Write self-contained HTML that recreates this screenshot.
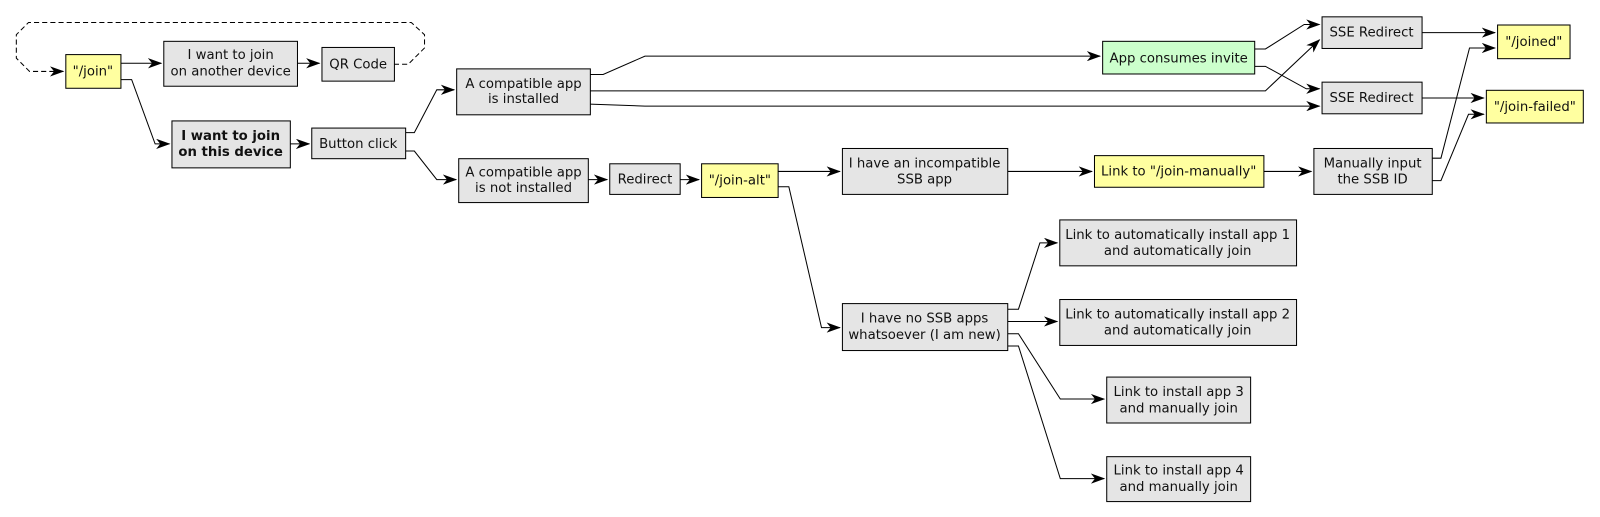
<!DOCTYPE html>
<html><head><meta charset="utf-8"><style>
html,body{margin:0;padding:0;background:#fff}
svg{display:block}
text{font-family:"DejaVu Sans","Liberation Sans",sans-serif;font-size:13px;fill:#111;text-anchor:middle}
.g{fill:#e5e5e5;stroke:#000;stroke-width:1}
.y{fill:#ffffa0;stroke:#000;stroke-width:1}
.gr{fill:#ccffcc;stroke:#000;stroke-width:1}
.e{fill:none;stroke:#000;stroke-width:1;marker-end:url(#a)}
</style></head><body>
<svg width="1600" height="517" viewBox="0 0 1600 517" xmlns="http://www.w3.org/2000/svg">
<defs><marker id="a" markerWidth="14" markerHeight="10" refX="13" refY="5" orient="auto" markerUnits="userSpaceOnUse"><path d="M0,0 L14,5 L0,10 L4,5 z" fill="#000"/></marker></defs>
<g transform="scale(1.0205)">
<!-- edges -->
<path d="M386,63 L400,63 L416,47 L416,34 L403,22 L28,22 L16,34 L16,57 L29,70 L62,70" fill="none" stroke="#000" stroke-dasharray="5,3"/>
<path d="M57,70 L62,70" class="e"/>
<path class="e" d="M118,62 L158,62"/>
<path class="e" d="M291,62 L313,62"/>
<path class="e" d="M118,78 L129,78 L152,141 L166,141"/>
<path class="e" d="M284,141 L303,141"/>
<path class="e" d="M397,130 L406,130 L428,88 L445,88"/>
<path class="e" d="M397,148 L406,148 L428,176 L447,176"/>
<path class="e" d="M578,73 L591,73 L632,55 L1078,55"/>
<path class="e" d="M578,89 L1240,89 L1293,39"/>
<path class="e" d="M578,102 L632,104 L1293,104"/>
<path class="e" d="M1229,48 L1240,48 L1278,24 L1293,24"/>
<path class="e" d="M1229,65 L1240,65 L1280,87 L1293,87"/>
<path class="e" d="M1393,32 L1465,32"/>
<path class="e" d="M1393,96 L1454,96"/>
<path class="e" d="M1403,155 L1412,155 L1440,47 L1465,47"/>
<path class="e" d="M1403,177 L1412,177 L1439,112 L1454,112"/>
<path class="e" d="M576,176 L595,176"/>
<path class="e" d="M666,176 L685,176"/>
<path class="e" d="M762,168 L823,168"/>
<path class="e" d="M762,183 L773,183 L805,321 L823,321"/>
<path class="e" d="M987,168 L1070,168"/>
<path class="e" d="M1238,168 L1285,168"/>
<path class="e" d="M987,303 L998,303 L1019,238 L1036,238"/>
<path class="e" d="M987,315 L1036,315"/>
<path class="e" d="M987,327 L998,327 L1039,391 L1082,391"/>
<path class="e" d="M987,339 L998,339 L1039,469 L1082,469"/>

<!-- nodes -->
<rect class="y" x="64.5" y="53.5" width="54" height="33"/><text x="91" y="74">"/join"</text>
<rect class="g" x="160.5" y="40.5" width="131" height="44"/><text x="226" y="58">I want to join</text><text x="226" y="74">on another device</text>
<rect class="g" x="315.5" y="46.5" width="71" height="33"/><text x="351" y="67">QR Code</text>
<rect class="g" x="168.5" y="118.5" width="116" height="46"/><text x="226" y="137" font-weight="bold">I want to join</text><text x="226" y="153" font-weight="bold">on this device</text>
<rect class="g" x="305.5" y="125.5" width="92" height="30"/><text x="351" y="145">Button click</text>
<rect class="g" x="447.5" y="67.5" width="131" height="45"/><text x="513" y="86">A compatible app</text><text x="513" y="101">is installed</text>
<rect class="g" x="449.5" y="155.5" width="127" height="43"/><text x="513" y="173">A compatible app</text><text x="513" y="188">is not installed</text>
<rect class="g" x="597.5" y="160.5" width="69" height="30"/><text x="632" y="180">Redirect</text>
<rect class="y" x="687.5" y="160.5" width="75" height="33"/><text x="725" y="181">"/join-alt"</text>
<rect class="g" x="825.5" y="145.5" width="162" height="45"/><text x="906" y="164">I have an incompatible</text><text x="906" y="180">SSB app</text>
<rect class="y" x="1072.5" y="152.5" width="166" height="31"/><text x="1155" y="172">Link to "/join-manually"</text>
<rect class="g" x="1287.5" y="145.5" width="116" height="45"/><text x="1345" y="164">Manually input</text><text x="1345" y="180">the SSB ID</text>
<rect class="gr" x="1080.5" y="40.5" width="149" height="32"/><text x="1155" y="61">App consumes invite</text>
<rect class="g" x="1295.5" y="16.5" width="98" height="31"/><text x="1344" y="36">SSE Redirect</text>
<rect class="g" x="1295.5" y="80.5" width="98" height="31"/><text x="1344" y="100">SSE Redirect</text>
<rect class="y" x="1467.5" y="24.5" width="71" height="33"/><text x="1503" y="45">"/joined"</text>
<rect class="y" x="1456.5" y="88.5" width="95" height="32"/><text x="1504" y="109">"/join-failed"</text>
<rect class="g" x="825.5" y="297.5" width="162" height="46"/><text x="906" y="316">I have no SSB apps</text><text x="906" y="332">whatsoever (I am new)</text>
<rect class="g" x="1038.5" y="215.5" width="232" height="45"/><text x="1154" y="234">Link to automatically install app 1</text><text x="1154" y="250">and automatically join</text>
<rect class="g" x="1038.5" y="293.5" width="232" height="45"/><text x="1154" y="312">Link to automatically install app 2</text><text x="1154" y="328">and automatically join</text>
<rect class="g" x="1084.5" y="369.5" width="141" height="45"/><text x="1155" y="388">Link to install app 3</text><text x="1155" y="404">and manually join</text>
<rect class="g" x="1084.5" y="447.5" width="141" height="44"/><text x="1155" y="465">Link to install app 4</text><text x="1155" y="481">and manually join</text>
</g>
</svg>
</body></html>
